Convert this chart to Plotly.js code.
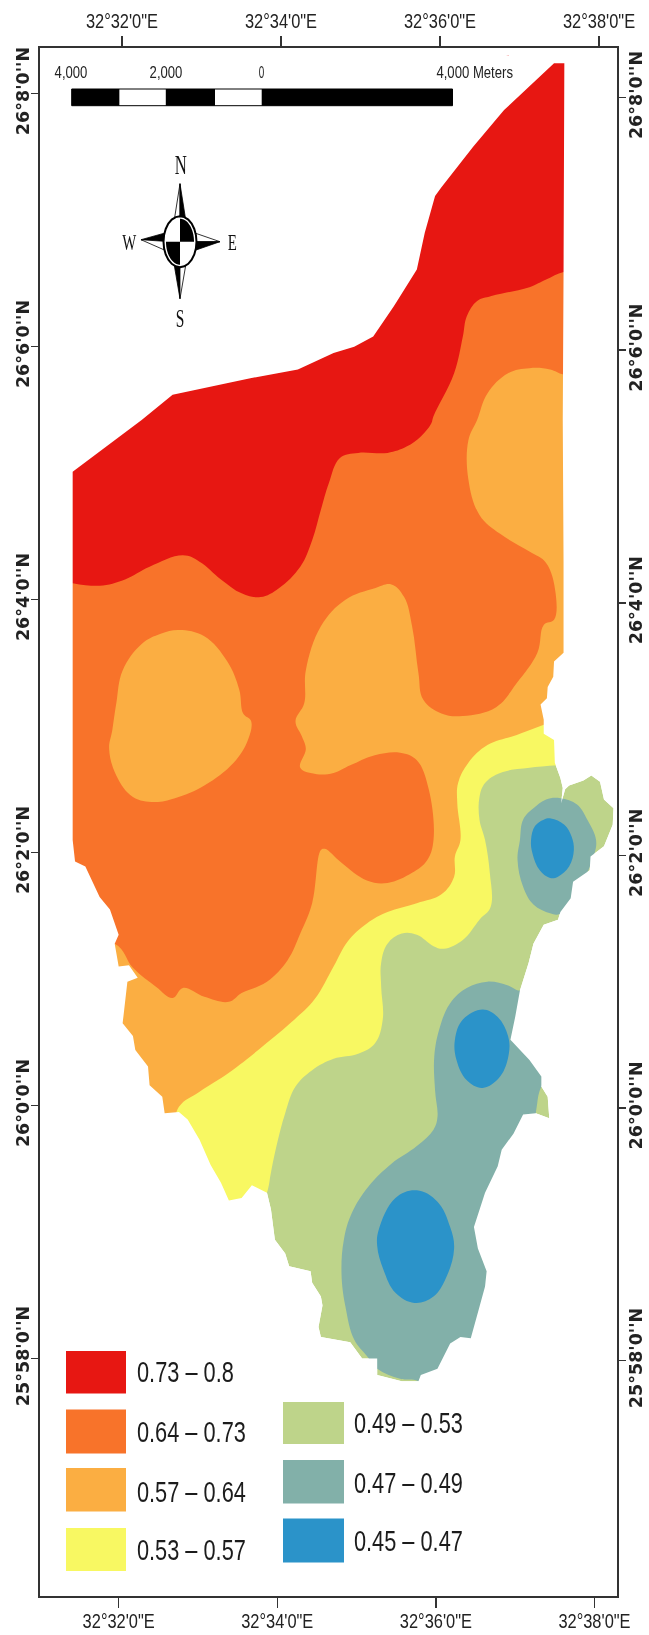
<!DOCTYPE html>
<html><head><meta charset="utf-8">
<script src="https://cdn.plot.ly/plotly-3.0.1.min.js"></script>
<style>html,body{margin:0;padding:0;background:#fff}#g{width:649px;height:1635px;filter:blur(0.45px)}</style>
</head><body><div id="g"></div>
<script>
// Coordinates are arc-minutes: lon = minutes east of 32°00', lat = minutes north of 26°00'
const classLabels = ['0.73 – 0.8','0.64 – 0.73','0.57 – 0.64','0.53 – 0.57','0.49 – 0.53','0.47 – 0.49','0.45 – 0.47'];
const classColors = ['#E71712','#F8732A','#FBAE42','#F8F862','#BED48A','#82B0A9','#2B93C9'];

const lonTicks = [32,34,36,38];
const lonTickLabels = ['32°32\'0"E','32°34\'0"E','32°36\'0"E','32°38\'0"E'];
const latTicks = [8,6,4,2,0,-2];
const latTickLabels = ["26°8'0''N","26°6'0''N","26°4'0''N","26°2'0''N","26°0'0''N","25°58'0''N"];

const outlineLon = [37.49,37.62,37.61,37.60,37.61,37.61,37.49,37.48,37.41,37.40,37.32,37.36,37.36,37.49,37.50,37.57,37.60,37.58,37.63,37.68,37.86,37.96,38.07,38.12,38.24,38.23,38.12,37.95,37.94,37.73,37.70,37.57,37.54,37.36,37.23,37.17,37.06,37.00,36.94,37.18,37.33,37.33,37.41,37.43,37.26,37.10,36.98,36.83,36.78,36.62,36.48,36.53,36.64,36.62,36.55,36.44,36.31,36.18,36.02,35.81,35.78,35.57,35.26,35.26,35.07,34.92,34.55,34.52,34.57,34.55,34.44,34.42,34.15,34.10,33.97,33.92,33.87,33.68,33.55,33.39,33.29,33.16,33.02,32.87,32.76,32.58,32.55,32.39,32.37,32.21,32.18,32.05,32.11,32.24,32.13,32.00,31.95,32.00,31.89,31.76,31.58,31.45,31.42,31.42,32.29,32.68,33.66,34.26,34.71,34.97,35.21,35.47,35.76,35.86,35.99,36.07,36.47,36.86,37.49];
const outlineLat = [8.24,8.24,6.59,5.42,4.29,3.58,3.51,3.39,3.31,3.22,3.17,3.05,2.94,2.89,2.71,2.59,2.51,2.39,2.50,2.53,2.57,2.61,2.56,2.42,2.35,2.22,2.05,1.97,1.86,1.77,1.64,1.53,1.47,1.43,1.28,1.13,0.91,0.70,0.52,0.36,0.23,0.15,0.07,-0.10,-0.06,-0.07,-0.22,-0.35,-0.48,-0.69,-0.96,-1.13,-1.31,-1.43,-1.59,-1.84,-1.83,-1.88,-2.08,-2.13,-2.18,-2.18,-2.13,-2.00,-2.00,-1.87,-1.83,-1.75,-1.58,-1.51,-1.40,-1.31,-1.27,-1.17,-1.06,-0.82,-0.69,-0.63,-0.73,-0.75,-0.61,-0.47,-0.27,-0.11,-0.05,-0.06,0.07,0.16,0.31,0.44,0.55,0.65,0.98,1.01,1.11,1.10,1.28,1.35,1.55,1.65,1.89,1.93,2.10,5.01,5.42,5.62,5.75,5.82,5.95,6.00,6.08,6.32,6.61,6.90,7.19,7.26,7.58,7.87,8.24];

const yellowLon = [37.54,37.18,36.81,36.62,36.55,36.55,36.62,36.68,36.69,36.55,36.34,36.10,35.97,35.76,35.57,35.39,35.31,35.31,35.33,35.23,35.02,34.71,34.44,34.23,34.10,33.99,33.92,33.87,33.66,31.03,31.03,38.4,38.4,37.86];
const yellowLat = [2.69,2.67,2.63,2.55,2.44,2.26,2.10,1.84,1.57,1.47,1.31,1.24,1.26,1.35,1.36,1.28,1.13,0.94,0.68,0.49,0.41,0.37,0.28,0.15,-0.06,-0.32,-0.53,-0.69,-1.01,-1.01,8.3,8.3,2.94,2.94];

const lightOrangeLon = [37.36,37.02,36.65,36.41,36.28,36.27,36.31,36.24,36.23,36.07,35.76,35.39,35.13,34.89,34.71,34.47,34.18,33.76,33.39,33.02,32.76,32.60,31.03,31.03,38.4,38.4];
const lightOrangeLat = [3.01,2.93,2.85,2.71,2.55,2.39,2.10,1.97,1.81,1.67,1.60,1.53,1.44,1.30,1.10,0.84,0.66,0.44,0.26,0.11,-0.01,-0.35,-0.35,8.3,8.3,3.2];

const orangeLon = [37.86,37.61,37.44,37.18,36.91,36.65,36.52,36.41,36.41,36.55,36.81,37.18,37.39,37.51,37.49,37.36,37.28,37.02,36.76,36.34,36.07,35.84,35.78,35.70,35.60,35.44,35.23,34.86,34.55,34.36,34.34,34.23,34.31,34.36,34.29,34.50,34.71,34.92,35.23,35.55,35.76,35.91,35.97,35.89,35.70,35.39,35.13,34.81,34.60,34.55,34.44,34.29,34.13,33.87,33.55,33.39,33.08,32.81,32.68,32.47,32.18,31.95,31.03,31.03,37.86];
const orangeLat = [5.78,5.78,5.82,5.83,5.79,5.63,5.42,5.26,4.95,4.67,4.52,4.38,4.29,4.05,3.84,3.80,3.58,3.34,3.15,3.08,3.10,3.21,3.42,3.79,4.02,4.12,4.09,4.00,3.79,3.44,3.18,3.04,2.92,2.82,2.67,2.62,2.63,2.69,2.77,2.79,2.73,2.50,2.10,1.94,1.84,1.76,1.78,1.92,2.03,2.02,1.60,1.36,1.15,0.98,0.89,0.82,0.86,0.93,0.85,0.94,1.09,1.28,1.28,8.3,8.3];

const westIslandLon = [32.76,33.08,33.37,33.52,33.57,33.67,33.63,33.45,33.08,32.71,32.45,32.18,31.97,31.88,31.92,31.97,32.05,32.29,32.53,32.76];
const westIslandLat = [3.76,3.71,3.51,3.29,3.10,3.04,2.89,2.71,2.53,2.43,2.40,2.44,2.61,2.82,2.97,3.18,3.44,3.65,3.73,3.76];

const redLon = [31.42,31.76,32.08,32.39,32.81,33.02,33.29,33.55,33.79,34.02,34.29,34.44,34.55,34.65,34.79,35.02,35.39,35.63,35.81,35.94,35.97,36.23,36.34,36.39,36.52,36.70,37.18,37.39,37.61,37.86,37.86,31.03,31.03];
const redLat = [4.13,4.11,4.16,4.26,4.35,4.30,4.16,4.05,4.02,4.09,4.26,4.47,4.71,4.92,5.12,5.16,5.16,5.21,5.29,5.39,5.45,5.79,6.08,6.24,6.36,6.40,6.47,6.53,6.59,6.59,8.3,8.3,4.13];

const tealNorthLon = [37.57,37.78,37.91,38.02,37.99,37.86,37.70,37.54,37.44,37.23,37.10,37.03,37.06,37.10,37.23,37.39,37.57];
const tealNorthLat = [2.43,2.38,2.26,2.10,1.97,1.78,1.57,1.51,1.52,1.59,1.73,1.94,2.10,2.26,2.35,2.42,2.43];

const tealSouthLon = [36.65,36.39,36.18,36.05,35.98,35.99,36.02,35.97,35.76,35.44,35.15,34.94,34.84,34.81,34.86,34.97,35.13,35.26,35.55,35.78,36.28,36.7,37.26,37.33,37.6,37.4,37.06,36.91,36.65];
const tealSouthLat = [0.98,0.93,0.81,0.62,0.39,0.12,-0.09,-0.19,-0.32,-0.46,-0.64,-0.85,-1.06,-1.33,-1.59,-1.85,-1.98,-2.08,-2.16,-2.18,-2.46,-2.46,-0.06,0.15,0.4,1.0,0.91,0.95,0.98];

const blueNorthLon = [37.45,37.62,37.71,37.74,37.68,37.54,37.44,37.31,37.22,37.20,37.25,37.36,37.45];
const blueNorthLat = [2.27,2.22,2.13,2.02,1.89,1.81,1.80,1.86,1.99,2.10,2.21,2.26,2.27];
const blueMiddleLon = [36.59,36.78,36.91,36.92,36.81,36.59,36.39,36.26,36.24,36.34,36.59];
const blueMiddleLat = [0.76,0.70,0.55,0.41,0.23,0.14,0.20,0.36,0.52,0.68,0.76];
const blueSouthLon = [35.76,36.02,36.18,36.23,36.13,35.97,35.73,35.49,35.34,35.26,35.28,35.49,35.76];
const blueSouthLat = [-0.67,-0.76,-0.96,-1.13,-1.36,-1.51,-1.56,-1.48,-1.30,-1.11,-0.98,-0.73,-0.67];

const scaleLabels = ['4,000','2,000','0','4,000 Meters'];

// ---------- page geometry (decoration only) ----------
const W=649,H=1635,L=40,R=617,T=48,B=1596;
const px=x=>(x-L)/(R-L), py=y=>1-(y-T)/(B-T);
const pt=(x,y)=>px(x).toFixed(5)+' '+py(y).toFixed(5);
const poly=a=>'M'+a.map(p=>pt(p[0],p[1])).join(' L')+' Z';

function area(lon,lat,color,smooth){
  return {type:'scatter',x:lon,y:lat,mode:'lines',fill:'toself',fillcolor:color,
    line:{width:0,color:color,shape:smooth?'spline':'linear',smoothing:1.1,simplify:false},hoverinfo:'skip',showlegend:false};
}
const maskLon=[30.5,39,39,30.5,30.5].concat(outlineLon.slice().reverse(),[30.5]);
const maskLat=[9,9,-4.5,-4.5,9].concat(outlineLat.slice().reverse(),[9]);
const traces=[
  area(outlineLon,outlineLat,classColors[4],false),
  area(yellowLon,yellowLat,classColors[3],true),
  area(lightOrangeLon,lightOrangeLat,classColors[2],true),
  area(orangeLon,orangeLat,classColors[1],true),
  area(westIslandLon,westIslandLat,classColors[2],true),
  area(redLon,redLat,classColors[0],true),
  area(tealNorthLon,tealNorthLat,classColors[5],true),
  area(tealSouthLon,tealSouthLat,classColors[5],true),
  area(blueNorthLon,blueNorthLat,classColors[6],true),
  area(blueMiddleLon,blueMiddleLat,classColors[6],true),
  area(blueSouthLon,blueSouthLat,classColors[6],true),
  area(maskLon,maskLat,'#ffffff',false),
  {type:'scatter',x:[32,38],y:[8,-2],xaxis:'x2',yaxis:'y2',mode:'none',hoverinfo:'skip',showlegend:false}
];

// ---------- shapes ----------
const shapes=[], ann=[];
const rectS=(x0,y0,x1,y1,fill,lw,lc)=>shapes.push({type:'rect',xref:'paper',yref:'paper',x0:px(x0),x1:px(x1),y0:py(y0),y1:py(y1),fillcolor:fill,line:{width:lw||0,color:lc||fill}});
const pathS=(d,fill,lw,lc)=>shapes.push({type:'path',xref:'paper',yref:'paper',path:d,fillcolor:fill,line:{width:lw||0,color:lc||fill}});
const text=(s,x,y,size,family,anchor,color)=>ann.push({xref:'paper',yref:'paper',x:px(x),y:py(y),text:s,showarrow:false,xanchor:anchor||'center',yanchor:'middle',font:{size:size,family:family,color:color||'#222'},borderpad:0,borderwidth:0});

// legend
const SANS='"Liberation Sans",sans-serif';
const legendRows=[[66,1351,126,1393.5,137,1372],[66,1409.5,126,1453.5,137,1432],[66,1468,126,1511.5,137,1491.5],[66,1528,126,1571,137,1550],
 [283,1402,344,1444,354,1423],[283,1460,344,1503.5,354,1482.5],[283,1518.5,344,1562.5,354,1541]];
legendRows.forEach((r,i)=>{rectS(r[0],r[1],r[2],r[3],classColors[i]);text(classLabels[i],r[4],r[5],29,SANS,'left','#1c1c1c');});

// scale bar
[[71.7,119.6,'#000'],[119.6,165.8,'#fff'],[165.8,215,'#000'],[215,261.7,'#fff'],[261.7,452.5,'#000']].forEach(s=>rectS(s[0],89,s[1],105.7,s[2]));
rectS(71.7,89,452.5,105.7,'rgba(0,0,0,0)',1,'#000');
text(scaleLabels[0],71,72.5,16,SANS);text(scaleLabels[1],166,72.5,16,SANS);text(scaleLabels[2],261,72.5,16,SANS);text(scaleLabels[3],474,72.5,16,SANS);

// north arrow
const cx=180,cy=241.7;
const rel=a=>a.map(p=>[cx+p[0],cy+p[1]]);
const spike=(tip,a,b,fill)=>pathS(poly(rel([tip,a,b])),fill,0.8,'#000');
spike([0,-58],[0,-15],[-6,-20],'#fff');spike([0,-58],[0,-15],[6,-20],'#000');
spike([0,57],[0,15],[-6,22],'#000');spike([0,57],[0,15],[6,22],'#fff');
spike([-39,-2],[-10,0],[-14,-9],'#000');spike([-39,-2],[-10,0],[-14,9],'#fff');
spike([40,0],[10,0],[14,-9],'#fff');spike([40,0],[10,0],[14,9],'#000');
const ell=(rx,ry,a0,a1,pie)=>{const a=[];if(pie)a.push([0,0]);for(let i=0;i<=24;i++){const t=a0+(a1-a0)*i/24;a.push([rx*Math.cos(t),ry*Math.sin(t)]);}return rel(a);};
pathS(poly(ell(16.5,25.5,0,2*Math.PI)),'#fff',2,'#000');
pathS(poly(ell(14,23,-Math.PI/2,0,true)),'#000');
pathS(poly(ell(14,23,Math.PI/2,Math.PI,true)),'#000');
const SERIF='"Liberation Serif",serif';
text('N',181,165,27,SERIF,'center','#111');text('S',180,319,25,SERIF,'center','#111');text('W',129,242,24,SERIF,'center','#111');text('E',232,242,24,SERIF,'center','#111');

const xFont={size:20,family:SANS,color:'#222'};
const yFont={size:17.5,family:'"DejaVu Sans",sans-serif',color:'#222',weight:'bold'};
const common={showgrid:false,zeroline:false,showline:true,linecolor:'#333',linewidth:2,ticks:'outside',tickcolor:'#333',tickmode:'array',fixedrange:true};
const layout={width:W,height:H,paper_bgcolor:'#fff',plot_bgcolor:'#fff',showlegend:false,
 margin:{l:L,r:W-R,t:T,b:H-B,pad:0},
 xaxis:Object.assign({},common,{range:[31.008,38.284],tickvals:lonTicks,ticktext:lonTickLabels,tickfont:xFont,ticklen:10,tickwidth:1.5,side:'bottom',anchor:'y',ticklabelstandoff:-4}),
 xaxis2:Object.assign({},common,{range:[30.969,38.226],tickvals:lonTicks,ticktext:lonTickLabels,tickfont:xFont,ticklen:10,tickwidth:1.5,side:'top',overlaying:'x',anchor:'y2'}),
 yaxis:Object.assign({},common,{range:[-3.877,8.361],tickvals:latTicks,ticktext:latTickLabels,tickfont:yFont,tickangle:-90,ticklen:7,tickwidth:1.5,side:'left',anchor:'x',ticklabelstandoff:-5}),
 yaxis2:Object.assign({},common,{range:[-3.864,8.393],tickvals:latTicks,ticktext:latTickLabels,tickfont:yFont,tickangle:-90,ticklen:7,tickwidth:1.5,side:'right',overlaying:'y',anchor:'x2',ticklabelstandoff:-5}),
 shapes:shapes,annotations:ann};
Plotly.newPlot('g',traces,layout,{displayModeBar:false,staticPlot:true}).then(gd=>{
  // The reference's lettering is horizontally condensed: squeeze glyphs, keep their height.
  const squeeze=(el,f)=>{const n=el.getComputedTextLength();el.setAttribute('textLength',(n*f).toFixed(1));el.setAttribute('lengthAdjust','spacingAndGlyphs');return n;};
  gd.querySelectorAll('.xtick text, .x2tick text').forEach(e=>squeeze(e,0.82));
  gd.querySelectorAll('.annotation-text').forEach(e=>{
    const t=e.textContent;
    if(classLabels.includes(t)){
      // legend labels stay left-aligned after squeezing
      const f=0.75, n=squeeze(e,f);
      e.setAttribute('x',(parseFloat(e.getAttribute('x')||0)-n*(1-f)/2).toFixed(1));
    } else squeeze(e,t.length===1?0.62:0.82);
  });
});
</script></body></html>
